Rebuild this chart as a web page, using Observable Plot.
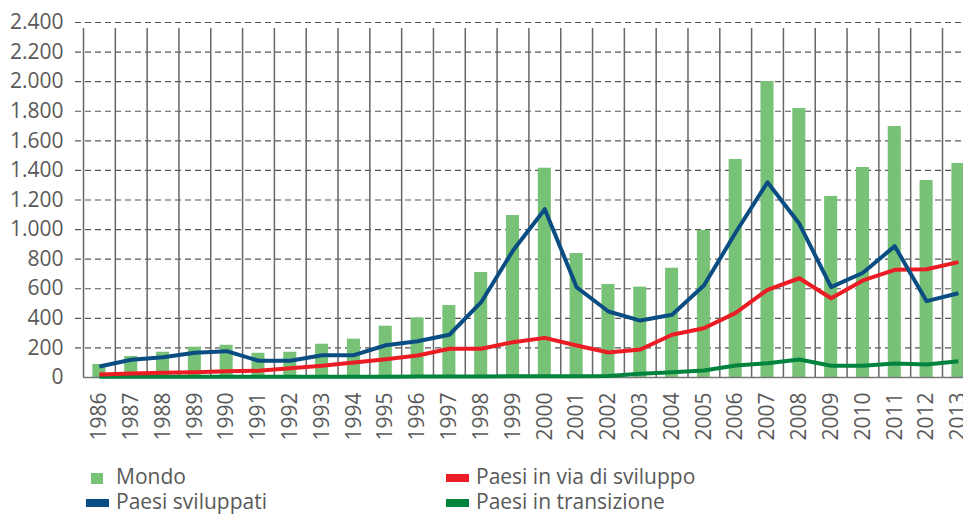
<!DOCTYPE html>
<html>
<head>
<meta charset="utf-8">
<script src="https://cdn.jsdelivr.net/npm/d3@7"></script>
<script src="https://cdn.jsdelivr.net/npm/@observablehq/plot@0.6"></script>
<style>
  html, body { margin: 0; padding: 0; background: #fff; overflow: hidden; width: 963px; height: 515px; }
  #chart { position: absolute; left: 0; top: 0; }
  #chart svg { display: block; }
  .legend { position: absolute; left: 0; top: 0; font-family: "Open Sans", sans-serif; font-size: 21px; color: #595959; line-height: 22px; }
  .item { position: absolute; white-space: nowrap; }
  .sw { position: absolute; }
</style>
</head>
<body>
<div id="chart"></div>
<div class="legend" id="legend"></div>
<script>
const years = [1986,1987,1988,1989,1990,1991,1992,1993,1994,1995,1996,1997,1998,1999,2000,2001,2002,2003,2004,2005,2006,2007,2008,2009,2010,2011,2012,2013];
const mondo = [88,142,171,205,218,164,171,225,259,347,403,487,710,1095,1415,838,629,611,739,994,1474,2001,1819,1224,1420,1697,1332,1447];
const sviluppati = [74,120,137,167,178,113,113,151,151,218,245,289,509,858,1138,610,446,385,424,622,980,1320,1039,611,708,888,516,570];
const inVia = [20,27,32,36,43,45,63,79,101,124,149,194,194,239,268,216,169,189,289,333,437,593,671,536,656,728,732,780];
const transizione = [5,5,5,5,5,5,5,5,5,5,6,7,7,8,8,8,10,25,36,47,81,97,122,79,79,95,88,110];
const yTicks = [0,200,400,600,800,1000,1200,1400,1600,1800,2000,2200,2400];

const colors = {"Mondo":"#78c278","Paesi sviluppati":"#0a4d82","Paesi in via di sviluppo":"#ec1c24","Paesi in transizione":"#00843d"};

const bars = years.map((y,i) => ({year: y, value: mondo[i]}));
const lines = [];
years.forEach((y,i) => {
  lines.push({year: y, value: sviluppati[i], series: "Paesi sviluppati"});
  lines.push({year: y, value: inVia[i], series: "Paesi in via di sviluppo"});
  lines.push({year: y, value: transizione[i], series: "Paesi in transizione"});
});
const lineOrder = ["Paesi in transizione","Paesi in via di sviluppo","Paesi sviluppati"];

const itLocale = d3.formatLocale({decimal: ",", thousands: ".", grouping: [3], currency: ["", "€"]});
const fmt = itLocale.format(",");
const halfBar = 0.205;

// the last year's band runs past the right edge of the picture (as in the original)
const xDomain = [1985.5, 2013.16];

const plot = Plot.plot({
  width: 963,
  height: 447,
  marginLeft: 83,
  marginRight: 0,
  marginTop: 22,
  marginBottom: 70,
  style: {fontFamily: "'Open Sans', sans-serif", fontSize: "21px", color: "#595959", background: "white"},
  x: {type: "linear", domain: xDomain, axis: null, label: null},
  y: {domain: [0, 2400], axis: null, label: null},
  marks: [
    Plot.ruleY(yTicks.filter(d => d > 0), {stroke: "#555", strokeWidth: 1.2, strokeDasharray: "6,4", insetLeft: -8}),
    Plot.ruleX(years, {x: d => d - 0.5, y1: 0, y2: 2400, stroke: "#666", strokeWidth: 1.5, insetBottom: -6}),
    Plot.rectY(bars, {x1: d => d.year - halfBar, x2: d => d.year + halfBar, y1: 0, y2: "value", fill: colors["Mondo"]}),
    Plot.ruleY([0], {stroke: "#777", strokeWidth: 1.5}),
    ...lineOrder.map(s => Plot.line(lines.filter(d => d.series === s), {x: "year", y: "value", stroke: colors[s], strokeWidth: 4, strokeLinejoin: "round", strokeLinecap: "butt"})),
    Plot.axisY(yTicks, {tickSize: 0, tickPadding: 20, tickFormat: fmt, fontSize: 21, fill: "#595959", label: null}),
    Plot.axisX(years, {tickSize: 0, tickPadding: 15, tickRotate: -90, tickFormat: d => String(d), fontSize: 21, fill: "#595959", label: null})
  ]
});
document.getElementById("chart").appendChild(plot);

// Legend
const legend = document.getElementById("legend");
const legendItems = [
  {name: "Mondo", left: 86, top: 464, type: "square"},
  {name: "Paesi sviluppati", left: 86, top: 489, type: "line"},
  {name: "Paesi in via di sviluppo", left: 446, top: 464, type: "line"},
  {name: "Paesi in transizione", left: 446, top: 489, type: "line"}
];
legendItems.forEach(item => {
  const sw = document.createElement("div");
  sw.className = "sw";
  sw.style.background = colors[item.name];
  if (item.type === "square") {
    sw.style.left = (item.left + 5) + "px"; sw.style.top = (item.top + 9) + "px";
    sw.style.width = "12px"; sw.style.height = "11px";
  } else {
    sw.style.left = item.left + "px"; sw.style.top = (item.top + 10) + "px";
    sw.style.width = "23px"; sw.style.height = "8px";
  }
  legend.appendChild(sw);
  const t = document.createElement("div");
  t.className = "item";
  t.textContent = item.name;
  t.style.left = (item.left + 30) + "px";
  t.style.top = (item.top + 1) + "px";
  legend.appendChild(t);
});
</script>
</body>
</html>
